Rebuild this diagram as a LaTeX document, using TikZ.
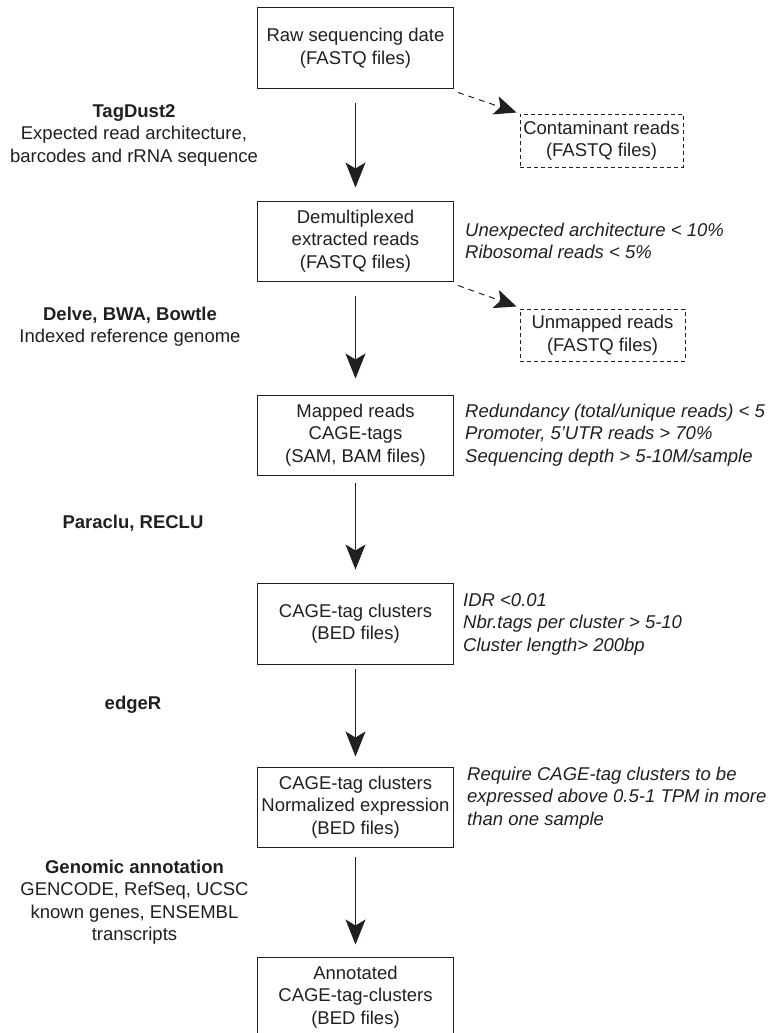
\documentclass[tikz,border=0pt]{standalone}
\usepackage{fontspec}
\setmainfont{Liberation Sans}
\usetikzlibrary{arrows.meta,calc}
\definecolor{ink}{HTML}{231F20}
\begin{document}
\begin{tikzpicture}[x=1pt,y=-1pt,
  every node/.style={font=\fontsize{18.5}{22.5}\selectfont, text=ink, inner sep=0pt},
  stepbox/.style={draw=ink, line width=1pt, minimum width=196pt, minimum height=80pt, align=center},
  outbox/.style={draw=ink, dash pattern=on 4pt off 3pt, line width=1pt, align=center},
  flow/.style={draw=ink, line width=1.1pt, -{Stealth[length=25pt,width=20pt,inset=6pt]}},
  sideflow/.style={draw=ink, line width=1pt, dash pattern=on 6pt off 5pt, -{Stealth[length=22pt,width=19pt,inset=5pt,sep=0pt]}},
  tool/.style={align=center},
  crit/.style={align=left, anchor=west, font=\fontsize{18.5}{22.5}\selectfont\itshape}]
\useasboundingbox (0,0) rectangle (780,1033);
\clip (0,0) rectangle (780,1033);

% main boxes
\node[stepbox] (b1) at (355.5,48) {Raw sequencing date\\(FASTQ files)};
\node[stepbox] (b2) at (355.5,241) {Demultiplexed\\extracted reads\\(FASTQ files)};
\node[stepbox] (b3) at (355.5,435) {Mapped reads\\CAGE-tags\\(SAM, BAM files)};
\node[stepbox, minimum height=81pt] (b4) at (355.5,623.5) {CAGE-tag clusters\\(BED files)};
\node[stepbox] (b5) at (355.5,807) {CAGE-tag clusters\\Normalized expression\\(BED files)};
\node[stepbox] (b6) at (355.5,997) {Annotated\\CAGE-tag-clusters\\(BED files)};

% side outputs
\node[outbox, minimum width=163pt, minimum height=53pt] (c1) at (601.5,140.5) {Contaminant reads\\(FASTQ files)};
\node[outbox, minimum width=165pt, minimum height=52pt] (c2) at (602.5,335) {Unmapped reads\\(FASTQ files)};

% main arrows
\draw[flow, shorten <=14pt, shorten >=13pt] (b1.south) -- (b2.north);
\draw[flow, shorten <=14pt, shorten >=16pt] (b2.south) -- (b3.north);
\draw[flow, shorten <=7pt, shorten >=13pt] (b3.south) -- (b4.north);
\draw[flow, shorten <=4pt, shorten >=10pt] (b4.south) -- (b5.north);
\draw[flow, shorten <=9pt, shorten >=12pt] (b5.south) -- (b6.north);

% dashed arrows
\draw[sideflow] ([shift={(4,4)}]b1.south east) -- ([shift={(-3,-1)}]c1.north west);
\draw[sideflow] ([shift={(4,4)}]b2.south east) -- ([shift={(-3,-2)}]c2.north west);

% tools (left)
\node[tool] (t1) at (134,135) {\textbf{TagDust2}\\Expected read architecture,\\barcodes and rRNA sequence};
\node[tool] (t2) at (130,326.5) {\textbf{Delve, BWA, Bowtle}\\Indexed reference genome};
\node[tool] (t3) at (133,523) {\textbf{Paraclu, RECLU}};
\node[tool] (t4) at (133,705) {\textbf{edgeR}};
\node[tool] (t5) at (134.5,902) {\textbf{Genomic annotation}\\GENCODE, RefSeq, UCSC\\known genes, ENSEMBL\\transcripts};

% criteria (right)
\node[crit] (r2) at (465,241) {Unexpected architecture < 10\%\\Ribosomal reads < 5\%};
\node[crit] (r3) at (465,435) {Redundancy (total/unique reads) < 5\\Promoter, 5’UTR reads > 70\%\\Sequencing depth > 5-10M/sample};
\node[crit] (r4) at (463,624) {IDR <0.01\\Nbr.tags per cluster > 5-10\\Cluster length> 200bp};
\node[crit] (r5) at (467,798) {Require CAGE-tag clusters to be\\expressed above 0.5-1 TPM in more\\than one sample};
\end{tikzpicture}
\end{document}
